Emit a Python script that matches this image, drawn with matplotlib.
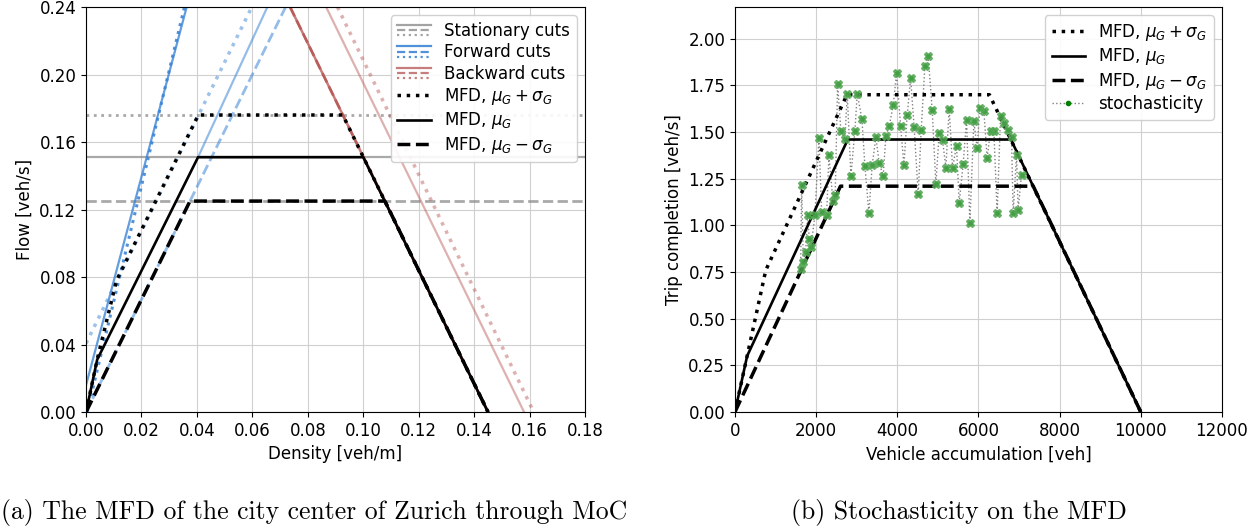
import matplotlib
matplotlib.use("Agg")
import matplotlib.pyplot as plt
from matplotlib.legend_handler import HandlerBase
from matplotlib.lines import Line2D
import numpy as np

# ---- (a) MFD in density / flow ----
density_ticks = [0, 0.02, 0.04, 0.06, 0.08, 0.10, 0.12, 0.14, 0.16, 0.18]
flow_ticks = [0, 0.04, 0.08, 0.12, 0.16, 0.20, 0.24]

mfd_k_hi = [0, 0.004, 0.011, 0.0405, 0.0926, 0.145]
mfd_q_hi = [0, 0.031, 0.078, 0.176, 0.176, 0]
mfd_k_mu = [0, 0.004, 0.0404, 0.100, 0.145]
mfd_q_mu = [0, 0.031, 0.151, 0.151, 0]
mfd_k_lo = [0, 0.0375, 0.1078, 0.145]
mfd_q_lo = [0, 0.125, 0.125, 0]

# stationary cuts: solid, dashed, dotted
stationary_q = [0.151, 0.125, 0.176]

# forward cuts (density endpoints, flow endpoints)
fwd_steep_solid_k = [0.0, 0.0363]
fwd_steep_solid_q = [0.016, 0.24]
fwd_steep_dotted_k = [0.0004, 0.0355]
fwd_steep_dotted_q = [0.0, 0.24]
fwd_solid_k = [0.0404, 0.0654]
fwd_solid_q = [0.151, 0.24]
fwd_dashed_k = [0.0, 0.072]
fwd_dashed_q = [0.0, 0.24]
fwd_dotted_k = [0.0, 0.0598]
fwd_dotted_q = [0.0407, 0.24]

# backward cuts
bwd_main_k = [0.0736, 0.145]
bwd_main_q = [0.24, 0.0]
bwd_solid_k = [0.0866, 0.158]
bwd_solid_q = [0.24, 0.0]
bwd_dotted_k = [0.0907, 0.1615]
bwd_dotted_q = [0.24, 0.0]

# ---- (b) MFD in accumulation / trip completion ----
acc_ticks = [0, 2000, 4000, 6000, 8000, 10000, 12000]
tc_ticks = [0, 0.25, 0.5, 0.75, 1.0, 1.25, 1.5, 1.75, 2.0]

acc_hi = [0, 300, 760, 2760, 6270, 10000]
tc_hi = [0, 0.30, 0.76, 1.70, 1.70, 0]
acc_mu = [0, 300, 2780, 6800, 10000]
tc_mu = [0, 0.30, 1.46, 1.46, 0]
acc_lo = [0, 2600, 7350, 10000]
tc_lo = [0, 1.21, 1.21, 0]

stoch_acc = [1618, 1643, 1683, 1741, 1790, 1830, 1872, 1970, 2069, 2135,
             2258, 2315, 2414, 2470, 2529, 2611, 2709, 2767, 2857, 2956,
             3013, 3128, 3202, 3300, 3382, 3473, 3554, 3653, 3719, 3800,
             3899, 3983, 4081, 4163, 4244, 4328, 4416, 4515, 4589, 4680,
             4762, 4860, 4951, 5032, 5115, 5197, 5279, 5362, 5460, 5525,
             5623, 5707, 5788, 5887, 5968, 6034, 6133, 6214, 6297, 6379,
             6461, 6544, 6634, 6716, 6815, 6855, 6938, 6978, 7061]
stoch_tc = [0.765, 1.217, 0.806, 0.856, 1.053, 0.928, 0.883, 1.053, 1.467, 1.074,
            1.053, 1.375, 1.131, 1.163, 1.757, 1.505, 1.464, 1.705, 1.267, 1.508,
            1.705, 1.571, 1.319, 1.065, 1.324, 1.472, 1.333, 1.267, 1.481, 1.530,
            1.643, 1.816, 1.535, 1.323, 1.589, 1.789, 1.525, 1.167, 1.512, 1.852,
            1.905, 1.619, 1.221, 1.494, 1.455, 1.310, 1.625, 1.310, 1.426, 1.119,
            1.328, 1.566, 1.012, 1.557, 1.414, 1.628, 1.614, 1.360, 1.508, 1.508,
            1.065, 1.587, 1.548, 1.512, 1.476, 1.065, 1.378, 1.083, 1.271]

GRAY = "#8c8c8c"
BLUE = "#3d85d6"
RED = "#b5524f"


class CutsKey:
    def __init__(self, color, alpha):
        self.color = color
        self.alpha = alpha


class StackedCutsHandler(HandlerBase):
    # three short lines (solid / dashed / dotted) stacked in one legend key
    def create_artists(self, legend, orig_handle, xdescent, ydescent,
                       width, height, fontsize, trans):
        artists = []
        for frac, ls in zip([0.95, 0.5, 0.05], ["-", "--", ":"]):
            y = -ydescent + height * frac
            ln = Line2D([-xdescent, -xdescent + width], [y, y], ls=ls,
                        lw=1.6, color=orig_handle.color, alpha=orig_handle.alpha,
                        transform=trans)
            artists.append(ln)
        return artists


plt.rcParams["font.size"] = 12
fig = plt.figure(figsize=(12.6, 5.31), dpi=100)
ax1 = fig.add_axes([0.0683, 0.2241, 0.396, 0.7627])
ax2 = fig.add_axes([0.5833, 0.2241, 0.3865, 0.7627])

# stationary cuts
for q, ls in zip(stationary_q, ["-", "--", ":"]):
    lw = 2.0 if ls != "-" else 1.6
    ax1.axhline(q, color=GRAY, ls=ls, lw=lw, alpha=0.75, zorder=2)

# forward cuts
ax1.plot(fwd_steep_solid_k, fwd_steep_solid_q, color=BLUE, lw=1.6, alpha=0.8, zorder=2)
ax1.plot(fwd_steep_dotted_k, fwd_steep_dotted_q, color=BLUE, lw=2.2, ls=":", alpha=0.9, zorder=2)
ax1.plot(fwd_solid_k, fwd_solid_q, color=BLUE, lw=1.6, alpha=0.55, zorder=2)
ax1.plot(fwd_dashed_k, fwd_dashed_q, color=BLUE, lw=2.0, ls="--", alpha=0.55, zorder=2)
ax1.plot(fwd_dotted_k, fwd_dotted_q, color=BLUE, lw=2.5, ls=":", alpha=0.5, zorder=2)

# backward cuts
ax1.plot(bwd_main_k, bwd_main_q, color=RED, lw=1.8, alpha=0.75, zorder=2)
ax1.plot(bwd_main_k, bwd_main_q, color=RED, lw=2.0, ls="--", alpha=0.75, zorder=2)
ax1.plot(bwd_solid_k, bwd_solid_q, color=RED, lw=1.6, alpha=0.45, zorder=2)
ax1.plot(bwd_dotted_k, bwd_dotted_q, color=RED, lw=2.5, ls=":", alpha=0.45, zorder=2)

# MFD curves
ax1.plot(mfd_k_hi, mfd_q_hi, color="black", ls=":", lw=2.5, zorder=3)
ax1.plot(mfd_k_mu, mfd_q_mu, color="black", ls="-", lw=1.9, zorder=3)
ax1.plot(mfd_k_lo, mfd_q_lo, color="black", ls="--", lw=2.5, zorder=3)

ax1.set_xlim(0, 0.18)
ax1.set_ylim(0, 0.24)
ax1.set_xticks(density_ticks)
ax1.set_yticks(flow_ticks)
ax1.set_xticklabels([f"{t:.2f}" for t in density_ticks])
ax1.set_yticklabels([f"{t:.2f}" for t in flow_ticks])
ax1.set_xlabel("Density [veh/m]")
ax1.set_ylabel("Flow [veh/s]")
ax1.grid(True, color="#d0d0d0", lw=0.8)
ax1.set_axisbelow(True)

handles1 = [CutsKey(GRAY, 0.8), CutsKey(BLUE, 0.9), CutsKey(RED, 0.75),
            Line2D([], [], color="black", ls=":", lw=2.5),
            Line2D([], [], color="black", ls="-", lw=1.9),
            Line2D([], [], color="black", ls="--", lw=2.5)]
labels1 = ["Stationary cuts", "Forward cuts", "Backward cuts",
           r"MFD, $\mu_G + \sigma_G$", r"MFD, $\mu_G$", r"MFD, $\mu_G - \sigma_G$"]
ax1.legend(handles1, labels1, loc="upper right", fontsize=12, labelspacing=0.2,
           handler_map={CutsKey: StackedCutsHandler()}, framealpha=0.9)

# ---- right panel ----
ax2.plot(acc_hi, tc_hi, color="black", ls=":", lw=2.5, label=r"MFD, $\mu_G + \sigma_G$", zorder=3)
ax2.plot(acc_mu, tc_mu, color="black", ls="-", lw=1.9, label=r"MFD, $\mu_G$", zorder=3)
ax2.plot(acc_lo, tc_lo, color="black", ls="--", lw=2.5, label=r"MFD, $\mu_G - \sigma_G$", zorder=3)
ax2.plot(stoch_acc, stoch_tc, color="gray", ls=":", lw=1.0, marker=".",
         mfc="green", mec="green", ms=6, label="stochasticity", zorder=2)
ax2.plot(stoch_acc, stoch_tc, ls="none", marker="X", ms=6, color="#55a855",
         mec="#55a855", alpha=0.8, zorder=4)

ax2.set_xlim(0, 12000)
ax2.set_ylim(0, 2.17)
ax2.set_xticks(acc_ticks)
ax2.set_yticks(tc_ticks)
ax2.set_yticklabels([f"{t:.2f}" for t in tc_ticks])
ax2.set_xlabel("Vehicle accumulation [veh]")
ax2.set_ylabel("Trip completion [veh/s]")
ax2.grid(True, color="#d0d0d0", lw=0.8)
ax2.set_axisbelow(True)
ax2.legend(loc="upper right", fontsize=12, labelspacing=0.2, framealpha=0.9)

# sub-captions
fig.text(0.249, 0.022, "(a) The MFD of the city center of Zurich through MoC",
         ha="center", va="baseline", fontsize=18.5, family="cmr10")
fig.text(0.761, 0.022, "(b) Stochasticity on the MFD",
         ha="center", va="baseline", fontsize=18.5, family="cmr10")

fig.savefig("out.png", dpi=100)
